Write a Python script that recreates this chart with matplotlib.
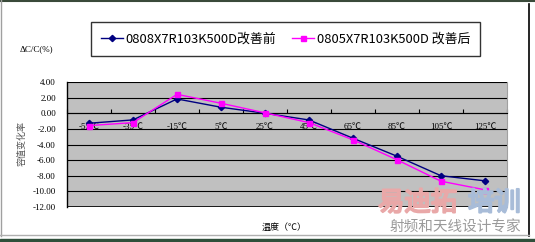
import numpy as np
import matplotlib
matplotlib.use("Agg")
import matplotlib.pyplot as plt
import matplotlib.patheffects as pe
from matplotlib.patches import Rectangle
from matplotlib.lines import Line2D

plt.rcParams['font.family'] = ['Noto Sans CJK SC', 'DejaVu Sans']

# data
temps = ['-55℃', '-35℃', '-15℃', '5℃', '25℃', '45℃', '65℃', '85℃', '105℃', '125℃']
before = [-1.28, -0.85, 1.83, 0.77, 0.0, -0.86, -3.2, -5.5, -8.0, -8.65]
after = [-1.58, -1.2, 2.42, 1.28, 0.05, -1.2, -3.4, -5.96, -8.7, -9.8]
name_before = '0808X7R103K500D改善前'
name_after = '0805X7R103K500D 改善后'
yticks = [4, 2, 0, -2, -4, -6, -8, -10, -12]

W, H = 535, 242
fig = plt.figure(figsize=(W/100, H/100), dpi=100)
fig.patch.set_facecolor('white')

ax = fig.add_axes([67/W, 1-207/H, 440/W, 125/H])
ax.set_facecolor('#C0C0C0')
x = np.arange(len(temps))

for v in yticks:
    ax.axhline(v, color='black', lw=0.8, zorder=1)

ax.plot(x, before, color='#000080', marker='D', ms=3.2, lw=1, zorder=3, label=name_before)
ax.plot(x, after, color='#FF00FF', marker='s', ms=3.6, lw=1, zorder=3, label=name_after)

ax.set_xlim(-0.5, len(temps)-0.5)
ax.set_ylim(-12, 4)
ax.set_yticks(yticks)
ax.set_yticklabels(['%.2f' % v for v in yticks], family=['Liberation Serif'], fontsize=6.5)
ax.tick_params(axis='y', length=0, pad=8)

ax.spines['bottom'].set_position(('data', 0))
ax.spines['bottom'].set_linewidth(0.8)
ax.spines['left'].set_linewidth(1)
ax.spines['top'].set_visible(False)
ax.spines['right'].set_color('#A0A0A0')
ax.axhline(-12, color='black', lw=1.2, zorder=2)

ax.set_xticks(np.arange(len(temps)+1) - 0.5)
ax.set_xticklabels([])
ax.tick_params(axis='x', which='major', direction='in', length=3, width=0.8)
ax.set_xticks(x, minor=True)
ax.set_xticklabels(temps, minor=True, family=['Liberation Serif', 'Noto Sans CJK SC'], fontsize=6.5)
ax.tick_params(axis='x', which='minor', length=0, pad=7)

leg = fig.legend(loc='upper left', bbox_to_anchor=(91/W, 1-22/H),
                 ncol=2, frameon=True, fancybox=False, edgecolor='black', fontsize=9.3,
                 handlelength=1.7, handletextpad=0.2, borderpad=0.8, borderaxespad=0,
                 columnspacing=1.2)
leg.get_frame().set_linewidth(1)

fig.text(20/W, 1-49/H, 'ΔC/C(%)', fontsize=6.5, family=['Liberation Serif'], va='center', ha='left')
fig.text(22/W, 1-144/H, '容值变化率', fontsize=6.5, color='#555555', rotation=90, va='center', ha='center')
fig.text(284/W, 1-227/H, '温度（℃）', fontsize=6.5, va='center', ha='center')

# watermark
stroke_r = [pe.withStroke(linewidth=1.5, foreground='#E9A8A8')]
stroke_b = [pe.withStroke(linewidth=1.5, foreground='#A8BCD8')]
fig.text(378/W, 1-203/H, '易迪拓', fontsize=19, color='#E9A8A8', va='center', ha='left',
         path_effects=stroke_r)
fig.text(468/W, 1-203/H, '培训', fontsize=19, color='#A8BCD8', va='center', ha='left',
         path_effects=stroke_b)
fig.text(455/W, 1-228/H, '射频和天线设计专家', fontsize=10.5, color='#9A9A9A', va='center', ha='center')

# outer frame
fig.add_artist(Line2D([0, 1], [1-0.5/H, 1-0.5/H], color='#3A4A3A', lw=1.5))
fig.add_artist(Line2D([1.5/W, 1.5/W], [1-236/H, 1], color='#A0A0A0', lw=1))
fig.add_artist(Line2D([529/W, 529/W], [1-236/H, 1-4/H], color='black', lw=1.2))
fig.add_artist(Line2D([0, 529/W], [1-235/H, 1-235/H], color='#B0B0B0', lw=1))
fig.add_artist(Rectangle((0, 0), 1, 3.5/H, transform=fig.transFigure, color='#2F4F3A'))

fig.savefig('out.png', dpi=100)
